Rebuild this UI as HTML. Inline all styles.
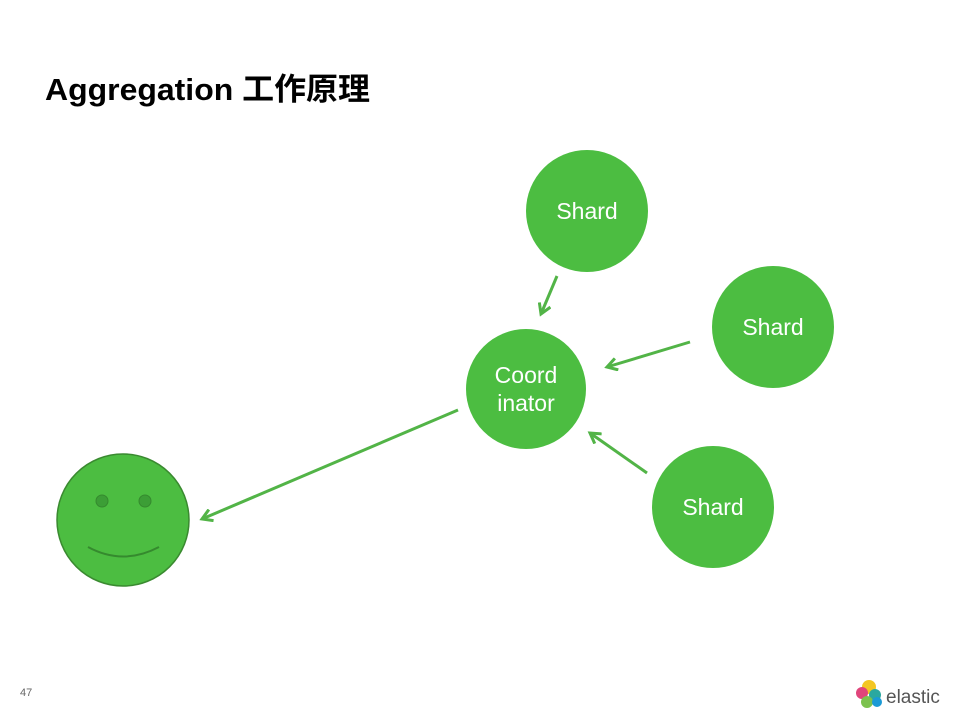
<!DOCTYPE html>
<html><head><meta charset="utf-8"><style>
body{margin:0;width:960px;height:720px;background:#fff;overflow:hidden;font-family:"Liberation Sans","Noto Sans CJK SC",sans-serif}
</style></head><body>
<svg width="960" height="720" xmlns="http://www.w3.org/2000/svg">
<defs><marker id="a" markerWidth="14" markerHeight="14" refX="11" refY="7" orient="auto" markerUnits="userSpaceOnUse"><path d="M1,1 L11,7 L1,13" fill="none" stroke="#52b447" stroke-width="3"/></marker></defs>
<text x="45" y="100" font-size="31" font-weight="bold" fill="#000" textLength="325" lengthAdjust="spacingAndGlyphs" font-family="Liberation Sans,Noto Sans CJK SC,sans-serif">Aggregation 工作原理</text>
<g fill="#4cbd41">
<circle cx="587" cy="211" r="61"/>
<circle cx="773" cy="327" r="61"/>
<circle cx="526" cy="389" r="60"/>
<circle cx="713" cy="507" r="61"/>
</g>
<g fill="#fff" font-size="23" text-anchor="middle" font-family="Liberation Sans,sans-serif">
<text x="587" y="219">Shard</text>
<text x="773" y="335">Shard</text>
<text x="713" y="515">Shard</text>
<text x="526" y="383">Coord</text>
<text x="526" y="411">inator</text>
</g>
<g stroke="#52b447" stroke-width="3" marker-end="url(#a)">
<line x1="557" y1="276" x2="541" y2="314"/>
<line x1="690" y1="342" x2="607" y2="367"/>
<line x1="647" y1="473" x2="590" y2="433"/>
<line x1="458" y1="410" x2="202" y2="519"/>
</g>
<circle cx="123" cy="520" r="66" fill="#4cbd41" stroke="#3a8a30" stroke-width="1.5"/>
<circle cx="102" cy="501" r="6" fill="#3c9e36" stroke="#358a2e"/>
<circle cx="145" cy="501" r="6" fill="#3c9e36" stroke="#358a2e"/>
<path d="M88,547 Q123,566 159,547" fill="none" stroke="#358a2e" stroke-width="2"/>
<text x="20" y="696" font-size="11" fill="#666">47</text>
<g>
<circle cx="869" cy="687" r="7" fill="#f3c623"/>
<circle cx="862" cy="693" r="6" fill="#e0457b"/>
<circle cx="875" cy="695" r="6" fill="#2aa8a0"/>
<circle cx="867" cy="702" r="6" fill="#7cc24e"/>
<circle cx="877" cy="702" r="5" fill="#1b9ad6"/>
</g>
<text x="886" y="703" font-size="19" fill="#555">elastic</text>
</svg>
</body></html>
